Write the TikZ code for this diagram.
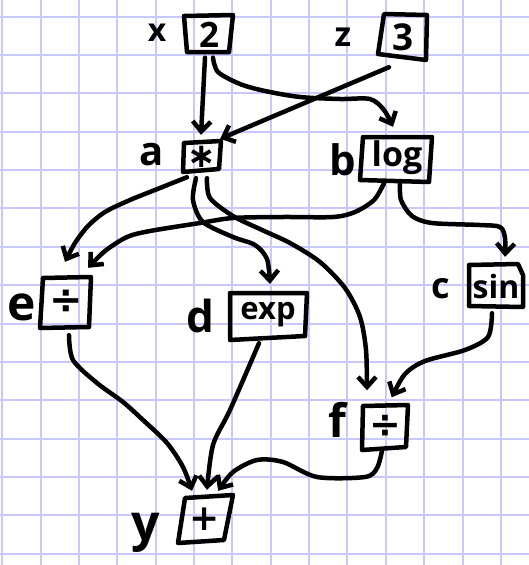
\documentclass[tikz,border=0pt]{standalone}
\usepackage{fontspec}
\setmainfont{Open Sans}
\newfontfamily\symfont{DejaVu Sans}
\usetikzlibrary{arrows.meta,calc}

\definecolor{gridblue}{RGB}{200,200,250}

\begin{document}
\begin{tikzpicture}[x=1pt,y=-1pt,
  gridline/.style={draw=gridblue, line width=2pt},
  ink/.style={line width=4.5pt, line cap=round, line join=round},
  sketch/.style={ink, draw=black},
  fs/.style={font=\fontsize{#1}{#1}\selectfont\bfseries},
  opbox/.style n args={2}{inner sep=0pt, minimum width=#1, minimum height=#2},
  varlabel/.style={inner sep=0pt},
  edge/.style={ink, -{Straight Barb[length=10pt,width=18pt]}},
]
\useasboundingbox (0,0) rectangle (529,565);

% squared paper
\foreach \i in {0,...,13} \draw[gridline] (2.3+38.35*\i,0) -- (2.3+38.35*\i,565);
\foreach \j in {0,...,14} \draw[gridline] (0,16.7+38.35*\j) -- (529,16.7+38.35*\j);

% operation boxes (invisible anchors, outlines drawn by hand below)
\node[opbox={44pt}{37pt}, fs=35] (n2) at (209,35) {2};
\node[opbox={46pt}{44pt}, fs=37] (n3) at (403,37) {3};
\node[opbox={36pt}{30pt}, fs=34] (na) at (202,157) {\symfont ∗};
\node[opbox={70pt}{44pt}, fs=34] (nb) at (397,158) {log};
\node[opbox={50pt}{50pt}, fs=40] (ne) at (66,302) {\symfont ÷};
\node[opbox={77pt}{46pt}, fs=31] (nd) at (268,315) {exp};
\node[opbox={54pt}{42pt}, fs=32] (nc) at (496,286) {sin};
\node[opbox={45pt}{43pt}, fs=38] (nf) at (385,426) {\symfont ÷};
\node[opbox={50pt}{46pt}, fs=36] (ny) at (205,519) {\symfont +};

% hand-drawn outlines
\draw[sketch] (184,16) -- (233,15) -- (229,52) -- (187,52) -- cycle;
\draw[sketch] (384,14) -- (427,15) -- (426,60) -- (378,54) -- cycle;
\draw[sketch] (184,143) -- (221,141) -- (219,169) -- (183,172) -- cycle;
\draw[sketch] (363,137) -- (432,137) -- (429,182) -- (360,180) -- cycle;
\draw[sketch] (43,278) -- (91,277) -- (89,327) -- (40,328) -- cycle;
\draw[sketch] (230,293) -- (307,293) -- (305,336) -- (230,340) -- cycle;
\draw[sketch] (469,265) -- (518,264) -- (523,275) -- (523,307) -- (469,306) -- cycle;
\draw[sketch] (363,406) -- (408,405) -- (406,447) -- (362,450) -- cycle;
\draw[sketch] (185,498) -- (233,495) -- (224,540) -- (178,543) -- cycle;

% variable names
\node[varlabel, fs=32] (lx) at (157,33) {x};
\node[varlabel, fs=34] (lz) at (343,37) {z};
\node[varlabel, fs=40] (la) at (152,155) {a};
\node[varlabel, fs=42] (lb) at (343,160) {b};
\node[varlabel, fs=36] (lc) at (441,289) {c};
\node[varlabel, fs=44] (ld) at (200,316) {d};
\node[varlabel, fs=48] (le) at (22,307) {e};
\node[varlabel, fs=46] (lf) at (337,420) {f};
\node[varlabel, fs=50] (ly) at (146,533) {y};

% connectors
\draw[edge] ($(n2.south)+(-4,4)$) -- ($(na.north)+(-1,-7)$);
\draw[edge] plot[smooth] coordinates {($(n2.south)+(4,4)$) (218,72) (240,84) (265,91) (300,97) (340,99) (370,99) (384,110) ($(nb.north)+(-4,-9)$)};
\draw[edge] ($(n3.south)+(-14,8)$) -- ($(na.north east)+(0,-3)$);
\draw[edge] plot[smooth] coordinates {($(na.south)+(-15,5)$) (160,188) (130,200) (105,212) (88,226) (75,243) ($(ne.north)+(-1,-15)$)};
\draw[edge] plot[smooth] coordinates {($(nb.south)+(-13,3)$) (374,200) (355,212) (333,217) (283,217) (233,218) (200,223) (150,231) (127,237) (105,251) ($(ne.north east)+(-3,-9)$)};
\draw[edge] plot[smooth] coordinates {($(na.south)+(-6,6)$) (193,200) (203,222) (233,237) (255,245) (267,259) ($(nd.north)+(2,-8)$)};
\draw[edge] plot[smooth] coordinates {($(na.south)+(5,6)$) (210,198) (233,216) (262,230) (290,243) (320,262) (345,288) (360,317) (366,350) ($(nf.north)+(-18,-14)$)};
\draw[edge] plot[smooth] coordinates {($(nb.south)+(3,3)$) (401,200) (412,216) (432,223) (480,225) (500,227) (505,238) ($(nc.north)+(9,-8)$)};
\draw[edge] plot[smooth] coordinates {($(nc.south)+(-4,6)$) (488,337) (465,350) (425,361) (405,374) ($(nf.north east)+(-16,-7)$)};
\draw[edge] plot[smooth] coordinates {($(ne.south)+(3,8)$) (73,360) (97,383) (123,402) (143,420) (167,443) (183,467) ($(ny.north)+(-13,-5)$)};
\draw[edge] plot[smooth] coordinates {($(nd.south)+(-9,5)$) (230,410) (213,445) ($(ny.north)+(2,-6)$)};
\draw[edge] plot[smooth] coordinates {($(nf.south)+(-3,3)$) (377,468) (365,477) (317,477) (283,462) (257,460) (233,472) ($(ny.north east)+(-12,-5)$)};
\end{tikzpicture}
\end{document}
